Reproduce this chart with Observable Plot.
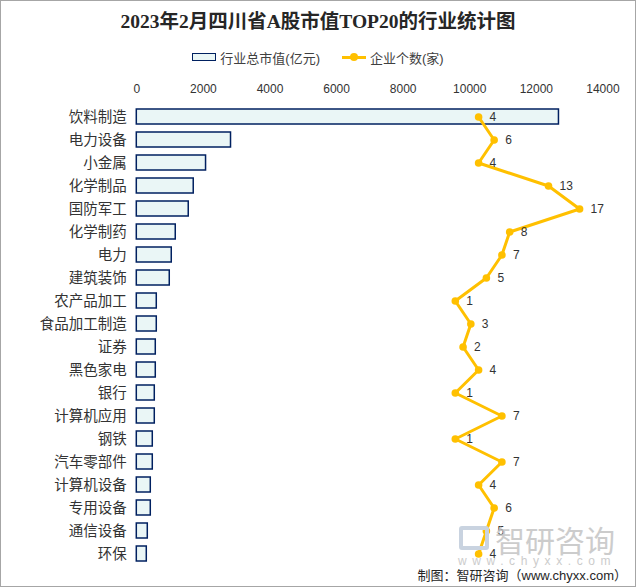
<!DOCTYPE html>
<html>
<head>
<meta charset="utf-8">
<script src="https://cdn.jsdelivr.net/npm/d3@7"></script>
<script src="https://cdn.jsdelivr.net/npm/@observablehq/plot@0.6"></script>
<style>
  html, body { margin: 0; padding: 0; background: #fff; }
  #frame { position: relative; width: 636px; height: 587px; box-sizing: border-box; border: 1px solid #a6a6a6; background: #fff; overflow: hidden; font-family: "Liberation Sans", "Noto Sans CJK SC", sans-serif; }
  #title { height: 42px; line-height: 42px; text-align: center; font-family: "Liberation Serif", "Noto Sans CJK SC", serif; font-weight: bold; font-size: 19.5px; color: #262626; }
  #legend { height: 28px; display: flex; align-items: center; justify-content: center; font-size: 13px; color: #404040; }
  .lg-item { display: flex; align-items: center; }
  .lg-box { width: 22px; height: 6px; border: 1.5px solid #002060; background: #EAF6F6; margin-right: 4px; }
  .lg-line { position: relative; width: 24px; height: 3px; background: #FFC000; margin-right: 4px; }
  .lg-line::after { content: ""; position: absolute; left: 8px; top: -2.5px; width: 8px; height: 8px; border-radius: 50%; background: #FFC000; }
  #chart { height: 496px; }
  #caption { height: 18px; line-height: 18px; text-align: right; padding-right: 8px; font-size: 13px; color: #262626; }
  #wm { position: absolute; left: 494px; top: 523px; line-height: 1; font-family: "Noto Sans CJK SC", sans-serif; font-size: 30px; color: #c4c4c4; opacity: 0.85; }
  #wm2 { position: absolute; left: 457px; top: 554px; line-height: 1; font-size: 12px; color: #cccccc; letter-spacing: 5.6px; }
  #wmicon { position: absolute; left: 458px; top: 525px; width: 30px; height: 24px; border: 4px solid #c9d3e0; border-radius: 3px; box-sizing: border-box; }
</style>
</head>
<body>
<div id="frame">
  <div id="title">2023年2月四川省A股市值TOP20的行业统计图</div>
  <div id="legend">
    <div class="lg-item" style="margin-right:22px"><div class="lg-box"></div><span>行业总市值(亿元)</span></div>
    <div class="lg-item"><div class="lg-line"></div><span>企业个数(家)</span></div>
  </div>
  <div id="chart"></div>
  <div id="caption">制图：智研咨询（www.chyxx.com）</div>
  <div id="wmicon"></div>
  <div id="wm">智研咨询</div>
  <div id="wm2">www.chyxx.com</div>
</div>
<script>
const industries = ["饮料制造","电力设备","小金属","化学制品","国防军工","化学制药","电力","建筑装饰","农产品加工","食品加工制造","证券","黑色家电","银行","计算机应用","钢铁","汽车零部件","计算机设备","专用设备","通信设备","环保"];
const marketValues = [12680, 2830, 2080, 1710, 1560, 1170, 1050, 990, 600, 600, 570, 570, 540, 540, 480, 480, 420, 420, 330, 300];
const companyCounts = [4, 6, 4, 13, 17, 8, 7, 5, 1, 3, 2, 4, 1, 7, 1, 7, 4, 6, 5, 4];
const xTicks = [0, 2000, 4000, 6000, 8000, 10000, 12000, 14000];
const valueDomain = [0, 14000];
const countDomain = [-40, 20];

const data = industries.map((name, i) => ({name, value: marketValues[i], count: companyCounts[i]}));
// secondary (hidden) axis for the company count, mapped onto the primary axis
const countToX = d3.scaleLinear(countDomain, valueDomain);

const plot = Plot.plot({
  width: 634,
  height: 496,
  marginLeft: 135.3,
  marginRight: 32.6,
  marginTop: 33.5,
  marginBottom: 2.5,
  style: {fontFamily: "'Liberation Sans','Noto Sans CJK SC',sans-serif", fontSize: "12px", color: "#333", background: "transparent", overflow: "visible"},
  x: {domain: valueDomain, axis: null, label: null},
  y: {type: "band", domain: industries, paddingInner: 0.35, paddingOuter: 0.175, align: 0.5, axis: null, label: null},
  marks: [
    Plot.axisX({anchor: "top", ticks: xTicks, tickSize: 0, tickPadding: 12, tickFormat: d => String(d), fontSize: 12, fill: "#333", label: null}),
    Plot.axisY({anchor: "left", tickSize: 0, tickPadding: 10, fontSize: 14.5, fill: "#333", fontFamily: "'Noto Sans CJK SC',sans-serif", label: null}),
    Plot.barX(data, {x: "value", y: "name", fill: "#EAF6F6", stroke: "#002060", strokeWidth: 1.5}),
    Plot.line(data, {x: d => countToX(d.count), y: "name", stroke: "#FFC000", strokeWidth: 3, curve: "linear"}),
    Plot.dot(data, {x: d => countToX(d.count), y: "name", r: 3.8, fill: "#FFC000", stroke: "none"}),
    Plot.text(data, {x: d => countToX(d.count), y: "name", text: d => String(d.count), dx: 11, textAnchor: "start", fill: "#333", fontSize: 12})
  ]
});
document.getElementById("chart").appendChild(plot);
</script>
</body>
</html>
